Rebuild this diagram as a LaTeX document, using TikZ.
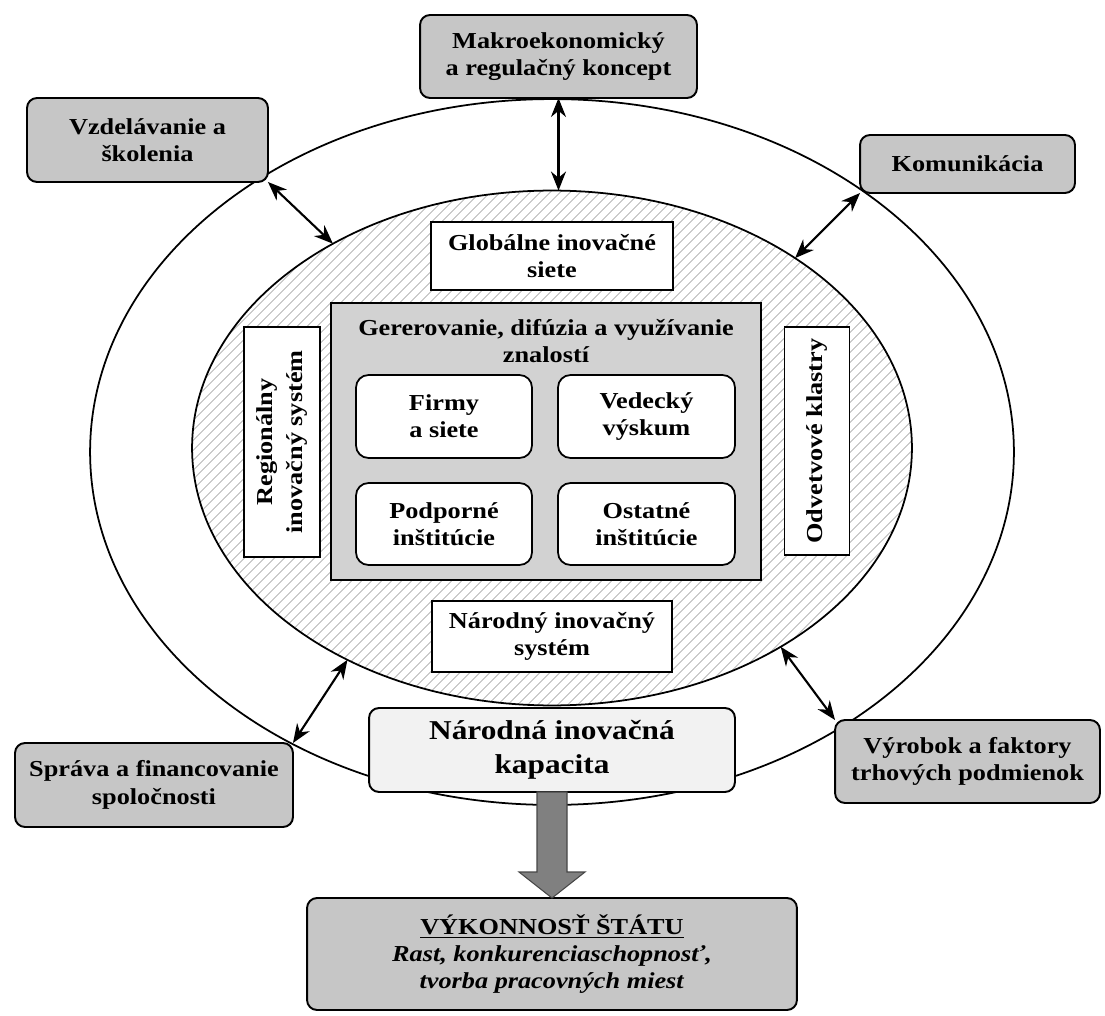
\documentclass[tikz,border=0pt]{standalone}
\usepackage{fontspec}
\setmainfont{Liberation Serif}[FakeStretch=1.15]
\usetikzlibrary{arrows.meta,patterns.meta,calc,shapes.geometric}
\definecolor{boxgray}{RGB}{198,198,198}
\definecolor{coregray}{RGB}{210,210,210}
\definecolor{lightbox}{RGB}{242,242,242}
\definecolor{arrowgray}{RGB}{128,128,128}
\definecolor{arrowdark}{RGB}{70,70,70}
\definecolor{hatchgray}{RGB}{175,175,175}
\newcommand\txtnorm{\fontsize{13}{15.5}\selectfont\bfseries}
\newcommand\txtbig{\fontsize{15.5}{19.5}\selectfont\bfseries}
\begin{document}
\begin{tikzpicture}[x=0.02cm,y=-0.02cm,
  every node/.style={inner sep=0pt, outer sep=0pt, align=center, font=\txtnorm},
  graybox/.style={draw, line width=1.1pt, rounded corners=0.2cm, fill=boxgray},
  whitebox/.style={draw, line width=1pt, fill=white},
  roundwhite/.style={draw, line width=1pt, rounded corners=0.25cm, fill=white},
  corebox/.style={draw, line width=1pt, fill=coregray},
  ring/.style={draw, line width=1pt, ellipse},
  link/.style={line width=1.2pt, {Stealth[length=3.8mm,width=3mm]}-{Stealth[length=3.8mm,width=3mm]}},
  bigarrow/.style={draw=arrowdark, fill=arrowgray, line width=0.6pt}
]
\useasboundingbox (0,0) rectangle (1105,1016);

% outer ellipse
\node[ring, minimum width=18.48cm, minimum height=14.12cm] (outer) at (552,452) {};

% outer boxes
\node[graybox, minimum width=5.54cm, minimum height=1.66cm] (mak) at (558.5,56.5) {Makroekonomický\\a regulačný koncept};
\node[graybox, minimum width=4.82cm, minimum height=1.68cm] (vzd) at (147.5,140) {Vzdelávanie a\\školenia};
\node[graybox, minimum width=4.3cm, minimum height=1.16cm] (kom) at (967.5,164) {Komunikácia};
\node[graybox, minimum width=5.56cm, minimum height=1.68cm] (spr) at (154,785) {Správa a financovanie\\spoločnosti};
\node[graybox, minimum width=5.3cm, minimum height=1.66cm] (vyr) at (967.5,761.5) {Výrobok a faktory\\trhových podmienok};

% inner hatched ellipse
\node[ring, minimum width=14.4cm, minimum height=10.3cm,
      pattern={Lines[angle=45,distance=4pt,line width=0.5pt]}, pattern color=hatchgray] (inner) at (552,448) {};

% inner content
\node[whitebox, minimum width=4.84cm, minimum height=1.36cm] (glob) at (552,256) {Globálne inovačné\\siete};
\node[whitebox, minimum width=4.8cm, minimum height=1.42cm] (nar) at (552,636.5) {Národný inovačný\\systém};
\node[corebox, minimum width=8.6cm, minimum height=5.54cm] (core) at (546,441.5) {};
\node (coretitle) at (546,341) {Gererovanie, difúzia a využívanie\\znalostí};
\node[roundwhite, minimum width=3.52cm, minimum height=1.66cm] (firmy) at (444,416.5) {Firmy\\a siete};
\node[roundwhite, minimum width=3.54cm, minimum height=1.66cm] (ved) at (646.5,416.5) {Vedecký\\výskum};
\node[roundwhite, minimum width=3.52cm, minimum height=1.64cm] (podp) at (444,524) {Podporné\\inštitúcie};
\node[roundwhite, minimum width=3.54cm, minimum height=1.64cm] (ost) at (646.5,524) {Ostatné\\inštitúcie};
\node[whitebox, minimum width=4.6cm, minimum height=1.52cm, rotate=90] (reg) at (282,442) {Regionálny\\[2pt]inovačný systém};
\node[whitebox, minimum width=4.56cm, minimum height=1.3cm, rotate=90] (odv) at (817,441) {Odvetvové klastry};

% national capacity box
\node[draw, line width=1.1pt, rounded corners=0.2cm, fill=lightbox, font=\txtbig,
      minimum width=7.32cm, minimum height=1.68cm] (nik) at (552,750) {Národná inovačná\\kapacita};

% performance box
\node[graybox, minimum width=9.8cm, minimum height=2.24cm] (vyk) at (552,954)
  {\underline{VÝKONNOSŤ ŠTÁTU}\\\textit{Rast, konkurenciaschopnosť,}\\\textit{tvorba pracovných miest}};

% connectors
\draw[link] (mak.south) -- (mak.south |- inner.north);
\draw[link] (vzd.south east) -- (inner.137);
\draw[link] (kom.south west) -- (inner.38);
\draw[link] (spr.north east) -- (inner.226);
\draw[link] (vyr.north west) -- (inner.319);

% big arrow
\draw[bigarrow] ($(nik.south)+(-15,0)$) -- ($(vyk.north)+(-15,-26)$) -- ($(vyk.north)+(-33,-26)$)
  -- (vyk.north) -- ($(vyk.north)+(33,-26)$) -- ($(vyk.north)+(15,-26)$) -- ($(nik.south)+(15,0)$) -- cycle;
\end{tikzpicture}
\end{document}
